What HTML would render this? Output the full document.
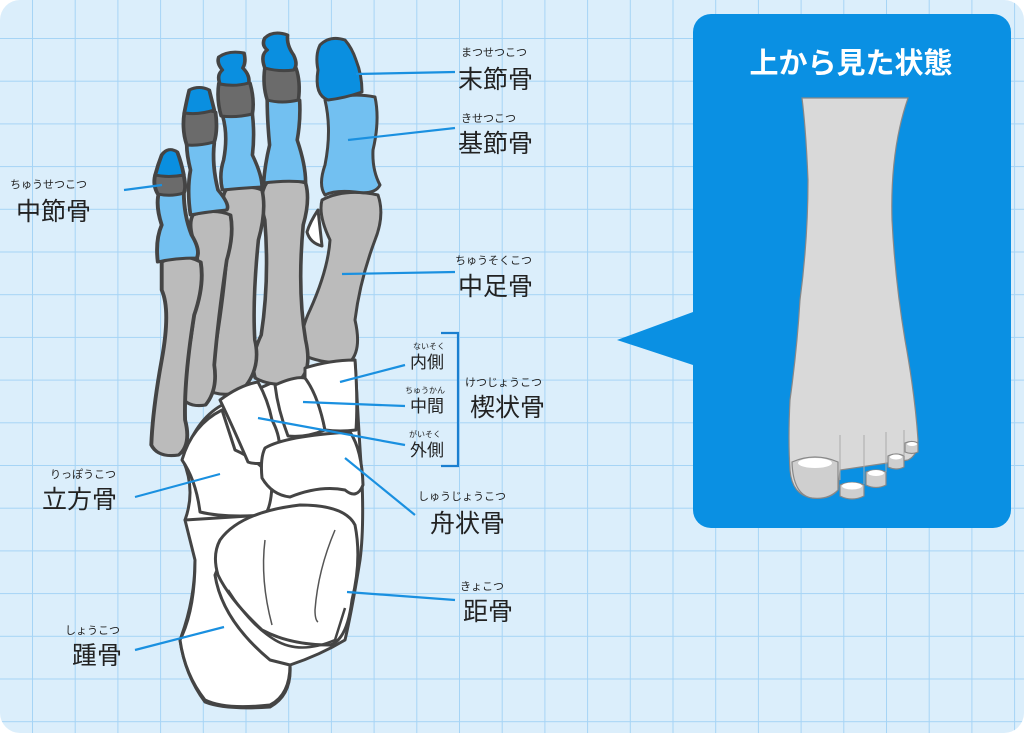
<!DOCTYPE html>
<html><head><meta charset="utf-8"><style>
html,body{margin:0;padding:0;width:1024px;height:733px;overflow:hidden;background:#fff}
svg{display:block}
.t{font-family:"Liberation Sans","Noto Sans CJK JP",sans-serif;fill:#222}
</style></head><body>
<svg width="1024" height="733" viewBox="0 0 1024 733" xmlns="http://www.w3.org/2000/svg">
<defs>
<pattern id="g" x="32" y="38" width="42.7" height="42.7" patternUnits="userSpaceOnUse">
<path d="M0 0H42.7M0 0V42.7" stroke="#a6d4f5" stroke-width="2" fill="none"/>
</pattern>
</defs>
<rect x="0" y="0" width="1024" height="733" rx="20" fill="#dbeefb"/>
<rect x="0" y="0" width="1024" height="733" rx="20" fill="url(#g)"/>

<!-- white backing for tarsals -->
<path fill="#fff" stroke="#444" stroke-width="3" stroke-linejoin="round" d="M183 460 Q195 420 222 405 L305 368 L355 360 Q358 420 362 480 Q364 530 360 560 Q352 610 345 640 Q320 655 290 665 Q292 695 270 707 Q225 710 205 702 Q185 675 180 640 Q195 600 195 560 Q196 535 185 520 Q196 490 183 460Z"/>

<g stroke="#444" stroke-width="3" stroke-linejoin="round">
<!-- metatarsals -->
<path fill="#bbbbbb" d="M322 200 Q345 188 378 195 Q385 215 375 240 Q360 280 355 320 Q362 350 350 362 Q325 365 303 355 Q298 335 310 310 Q328 270 330 240 Q318 215 322 200Z"/>
<g transform="translate(284,0) scale(1.2,1) translate(-284,0)">
<path fill="#bbbbbb" d="M270 182 Q288 178 302 183 Q306 200 300 225 Q295 290 302 340 Q308 372 295 382 Q275 388 260 378 Q255 360 265 335 Q272 280 268 220 Q262 195 270 182Z"/>
<path fill="#72c0f1" d="M270 100 Q285 97 297 100 Q298 120 295 140 Q302 165 302 182 Q285 180 267 183 Q268 165 272 145 Q270 120 270 100Z"/>
<path fill="#6b6b6b" d="M268 68 Q282 64 294 68 Q298 82 296 100 Q282 104 270 100 Q266 85 268 68Z"/>
<path fill="#0a8fe0" d="M268 38 Q275 30 287 35 Q286 45 292 55 Q296 65 292 70 Q280 72 268 68 Q264 55 270 50 Q265 45 268 38Z"/>
</g>
<g transform="translate(238,0) scale(1.2,1) translate(-238,0)">
<path fill="#bbbbbb" d="M228 190 Q245 184 258 190 Q262 210 255 240 Q250 300 252 340 Q258 370 240 392 Q222 398 210 388 Q208 370 220 340 Q228 280 230 230 Q222 200 228 190Z"/>
<path fill="#72c0f1" d="M225 115 Q238 110 250 114 Q252 135 250 155 Q258 175 258 187 Q242 188 225 190 Q222 175 226 160 Q230 135 225 115Z"/>
<path fill="#6b6b6b" d="M222 83 Q235 79 248 83 Q252 100 250 114 Q236 118 224 116 Q220 100 222 83Z"/>
<path fill="#0a8fe0" d="M222 57 Q230 50 243 53 Q245 62 242 68 Q248 75 247 83 Q235 87 223 84 Q220 75 225 70 Q220 63 222 57Z"/>
</g>
<g transform="translate(203,0) scale(1.25,1) translate(-203,0)">
<path fill="#bbbbbb" d="M195 215 Q212 208 225 215 Q228 235 222 260 Q215 320 212 365 Q215 390 205 405 Q190 408 185 395 Q185 370 193 340 Q200 280 198 250 Q190 225 195 215Z"/>
<path fill="#72c0f1" d="M190 145 Q202 140 212 143 Q210 165 215 190 Q225 205 222 210 Q205 212 193 215 Q190 190 193 170 Q190 155 190 145Z"/>
<path fill="#6b6b6b" d="M188 113 Q200 108 213 112 Q215 130 212 142 Q200 146 190 145 Q186 130 188 113Z"/>
<path fill="#0a8fe0" d="M192 90 Q200 85 208 90 Q210 100 212 110 Q200 115 188 113 Q190 100 192 90Z"/>
</g>
<g transform="translate(176,0) scale(1.3,1) translate(-176,0)">
<path fill="#bbbbbb" d="M165 262 Q180 252 195 262 Q198 285 190 315 Q182 380 183 420 Q188 445 178 455 Q162 458 157 445 Q158 410 165 360 Q172 310 165 290Z"/>
<path fill="#72c0f1" d="M163 192 Q172 188 182 192 Q182 215 188 235 Q195 250 192 258 Q175 258 162 262 Q160 240 165 225 Q160 205 163 192Z"/>
<path fill="#6b6b6b" d="M160 175 Q172 172 182 176 Q184 188 182 193 Q172 197 162 194 Q158 185 160 175Z"/>
<path fill="#0a8fe0" d="M165 155 Q170 146 177 152 Q180 162 182 175 Q170 178 160 175 Q162 165 165 155Z"/>
</g>
<path fill="#fff" d="M318 210 Q310 222 307 232 Q310 243 322 246 Z"/>
<path fill="#72c0f1" d="M325 100 Q352 92 375 97 Q380 120 373 150 Q372 170 380 185 Q375 195 355 192 Q335 190 325 195 Q318 185 325 165 Q332 130 325 100Z"/>
<path fill="#0a8fe0" d="M320 45 Q330 35 345 40 Q352 48 356 60 Q362 75 362 92 Q345 98 328 100 Q314 95 318 70 Q315 55 320 45Z"/>
<!-- tarsals -->
<path fill="#fff" d="M185 520 L265 515 Q230 535 215 575 Q222 620 270 660 L290 665 Q290 695 270 705 Q225 710 205 700 Q185 675 180 640 Q195 610 195 560 Z"/>
<path fill="#fff" d="M182 460 Q192 425 222 410 L235 450 Q262 462 272 480 Q272 505 265 515 Q225 518 200 512 Q196 480 182 460Z"/>
<path fill="#fff" d="M220 400 Q240 385 258 382 Q268 400 272 420 Q285 445 275 462 Q255 465 248 462 Q232 425 220 400Z"/>
<path fill="#fff" d="M275 385 Q295 376 305 378 Q318 392 325 430 Q305 438 288 436 Q278 410 275 385Z"/>
<path fill="#fff" d="M305 368 Q330 360 355 360 Q358 400 356 430 Q340 432 325 430 Q318 395 305 378Z"/>
<path fill="#fff" d="M265 448 Q285 436 350 432 Q362 450 363 485 Q357 500 345 490 Q320 485 290 497 Q272 495 262 478 Q260 458 265 448Z"/>
<path fill="#fff" d="M220 540 Q240 512 300 505 Q345 505 355 525 Q362 560 352 600 Q347 640 330 645 Q290 645 262 630 Q230 600 218 575 Q212 555 220 540Z"/>
<path fill="none" d="M228 590 Q250 625 275 640 Q300 655 335 640 L345 608" stroke-width="2.5"/>
</g>
<g stroke="#555" stroke-width="1.5" fill="none">
<path d="M265 540 Q260 580 272 625"/>
<path d="M335 530 Q318 570 315 610 Q315 620 318 622"/>
</g>

<g stroke="#1a90e0" stroke-width="2.2" fill="none">
<path d="M356 74 L455 72"/>
<path d="M348 140 L455 128"/>
<path d="M162 185 L124 190"/>
<path d="M342 274 L455 272"/>
<path d="M340 382 L405 365"/>
<path d="M303 402 L405 406"/>
<path d="M258 418 L405 445"/>
<path d="M345 458 L415 515"/>
<path d="M220 474 L135 497"/>
<path d="M347 592 L455 600"/>
<path d="M224 627 L135 650"/>
<path d="M441 333 H458 V466 H441" stroke="#1a7fd0"/>
</g>

<g class="t">
<text x="461" y="56" font-size="11">まつせつこつ</text>
<text x="458" y="88" font-size="25">末節骨</text>
<text x="461" y="122" font-size="11">きせつこつ</text>
<text x="458" y="152" font-size="25">基節骨</text>
<text x="10" y="188" font-size="11">ちゅうせつこつ</text>
<text x="16" y="220" font-size="25">中節骨</text>
<text x="455" y="264" font-size="11">ちゅうそくこつ</text>
<text x="458" y="295" font-size="25">中足骨</text>
<text x="413" y="349" font-size="8">ないそく</text>
<text x="410" y="368" font-size="17">内側</text>
<text x="405" y="393" font-size="8">ちゅうかん</text>
<text x="410" y="412" font-size="17">中間</text>
<text x="409" y="437" font-size="8">がいそく</text>
<text x="410" y="456" font-size="17">外側</text>
<text x="465" y="386" font-size="11">けつじょうこつ</text>
<text x="470" y="416" font-size="25">楔状骨</text>
<text x="50" y="478" font-size="11">りっぽうこつ</text>
<text x="42" y="508" font-size="25">立方骨</text>
<text x="418" y="500" font-size="11">しゅうじょうこつ</text>
<text x="430" y="532" font-size="25">舟状骨</text>
<text x="460" y="590" font-size="11">きょこつ</text>
<text x="463" y="620" font-size="25">距骨</text>
<text x="65" y="634" font-size="11">しょうこつ</text>
<text x="72" y="664" font-size="25">踵骨</text>
</g>

<path fill="#0a90e3" d="M617 340 L693 312 L693 365 Z"/>
<rect x="693" y="14" width="318" height="514" rx="18" fill="#0a90e3"/>
<text x="851" y="73" text-anchor="middle" font-size="29" font-weight="bold" fill="#fff" font-family="'Liberation Sans','Noto Sans CJK JP',sans-serif">上から見た状態</text>
<g stroke="#888" stroke-width="1.2" fill="#d9d9d9">
<path d="M802 98 L908 98 Q890 150 892 220 Q895 280 905 340 Q915 395 918 440 Q918 455 908 460 L840 470 L838 490 Q830 500 812 498 Q792 495 790 470 Q788 440 790 400 Q797 350 800 300 Q808 240 808 180 Q806 130 802 98Z"/>
</g>
<g fill="#cfcfcf" stroke="#888" stroke-width="1.2">
<path d="M792 462 Q815 452 838 462 L838 490 Q828 500 812 498 Q793 495 792 462Z"/>
<path d="M840 485 Q852 480 864 485 L864 496 Q852 502 840 496Z"/>
<path d="M866 472 Q876 468 886 472 L886 485 Q876 490 866 485Z"/>
<path d="M888 456 Q896 452 904 456 L904 467 Q896 471 888 467Z"/>
<path d="M905 443 Q912 440 918 443 L918 452 Q912 455 905 452Z"/>
</g>
<g fill="#fff">
<ellipse cx="815" cy="463" rx="17" ry="5"/>
<ellipse cx="852" cy="486" rx="10" ry="3.5"/>
<ellipse cx="876" cy="473" rx="8" ry="3"/>
<ellipse cx="896" cy="457" rx="6" ry="2.5"/>
<ellipse cx="912" cy="444" rx="5" ry="2"/>
</g>
<g stroke="#aaa" stroke-width="1" fill="none">
<path d="M840 435 L840 480"/><path d="M864 435 L864 484"/><path d="M886 432 L886 472"/><path d="M904 430 L904 456"/>
</g>
</svg>
</body></html>
